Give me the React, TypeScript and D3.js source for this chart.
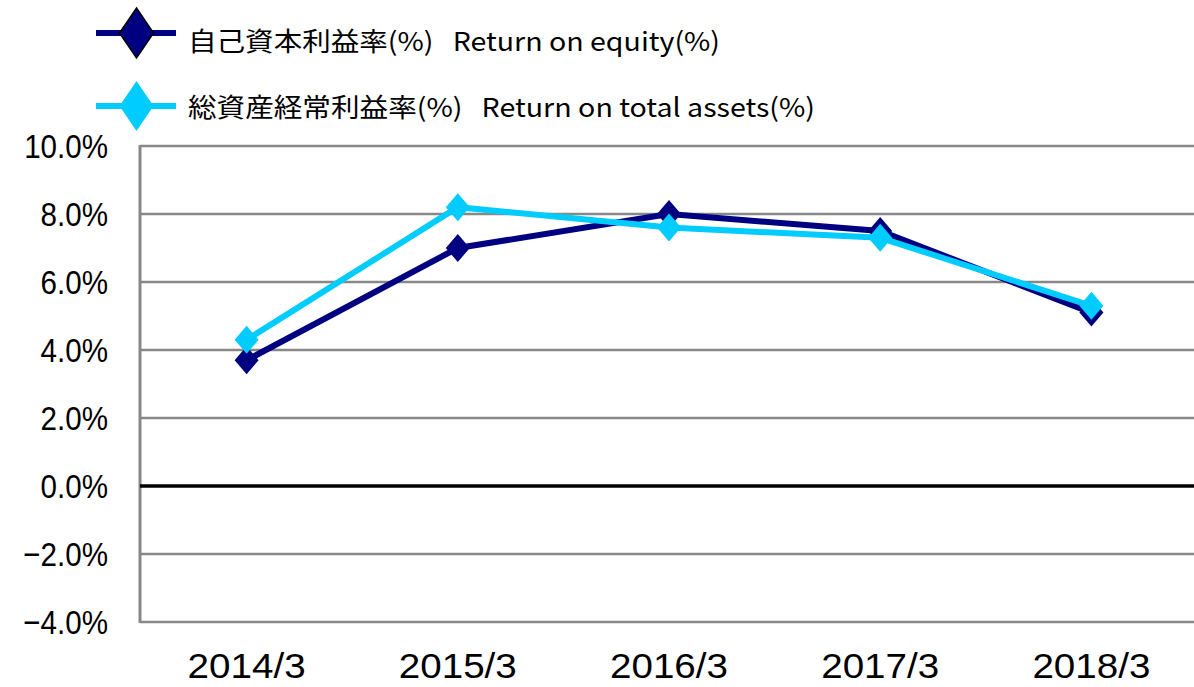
import React from "react";
import * as d3 from "d3";

const categories = ["2014/3", "2015/3", "2016/3", "2017/3", "2018/3"];
const roe = [3.7, 7.0, 8.0, 7.5, 5.1];
const roa = [4.3, 8.2, 7.6, 7.3, 5.3];
const yTicks = [10, 8, 6, 4, 2, 0, -2, -4];
const seriesNames = [
  "自己資本利益率(%)\u00a0\u00a0\u00a0Return on equity(%)",
  "総資産経常利益率(%)\u00a0\u00a0\u00a0Return on total assets(%)",
];
const colors = ["#000080", "#00CCFF"];

const W = 1194;
const H = 687;
const left = 140;
const right = 1196;
const top = 146;
const bottom = 622;

export default function App() {
  const x = d3.scaleBand<string>().domain(categories).range([left + 1, right + 1]).padding(0);
  const y = d3.scaleLinear().domain([-4, 10]).range([bottom, top]);
  const cx = (c: string) => (x(c) as number) + x.bandwidth() / 2;
  const line = d3
    .line<number>()
    .x((_, i) => cx(categories[i]))
    .y((v) => y(v));
  const diamond = (px: number, py: number, hw: number, hh: number) =>
    `M${px},${py - hh}L${px + hw},${py}L${px},${py + hh}L${px - hw},${py}Z`;
  const series = [roe, roa];
  const legendY = [33, 106];
  const legendBase = [51, 117];
  const legendLen = [532, 627];

  return (
    <svg
      width={W}
      height={H}
      style={{ position: "absolute", left: 0, top: 0, background: "#fff" }}
    >
      {yTicks.map((t) =>
        t === 0 ? null : (
          <line key={t} x1={left} x2={W} y1={y(t)} y2={y(t)} stroke="#888" strokeWidth={2.5} />
        )
      )}
      <line x1={left} x2={left} y1={top - 1} y2={bottom + 1} stroke="#888" strokeWidth={3} />
      <line x1={left} x2={W} y1={y(0)} y2={y(0)} stroke="#000" strokeWidth={3.5} />

      {yTicks.map((t) => (
        <text
          key={t}
          transform={`translate(108,${y(t) + 12}) scale(0.87,1)`}
          textAnchor="end"
          fontFamily="'Liberation Sans', Arial, sans-serif"
          fontSize={34}
          fill="#000"
        >
          {(t < 0 ? "\u2212" : "") + Math.abs(t).toFixed(1) + "%"}
        </text>
      ))}

      {categories.map((c) => (
        <text
          key={c}
          x={cx(c) - 59}
          y={678}
          textLength={118}
          lengthAdjust="spacingAndGlyphs"
          fontFamily="'Liberation Sans', Arial, sans-serif"
          fontSize={35}
          fill="#000"
        >
          {c}
        </text>
      ))}

      {series.map((s, si) => (
        <g key={si}>
          <path d={line(s) as string} fill="none" stroke={colors[si]} strokeWidth={6} strokeLinejoin="miter" />
          {s.map((v, i) => (
            <path key={i} d={diamond(cx(categories[i]), y(v), 12, 14)} fill={colors[si]} />
          ))}
        </g>
      ))}

      {seriesNames.map((n, i) => (
        <g key={n}>
          <line x1={96} x2={176} y1={legendY[i]} y2={legendY[i]} stroke={colors[i]} strokeWidth={6} />
          <path
            d={diamond(136.5, legendY[i], 17, 25)}
            fill={colors[i]}
            stroke={i === 0 ? "#000" : "none"}
            strokeWidth={1.5}
          />
          <text
            x={188}
            y={legendBase[i]}
            textLength={legendLen[i]}
            lengthAdjust="spacingAndGlyphs"
            fontFamily="'Noto Sans CJK JP', sans-serif"
            fontSize={26}
            fill="#000"
          >
            {n}
          </text>
        </g>
      ))}
    </svg>
  );
}
